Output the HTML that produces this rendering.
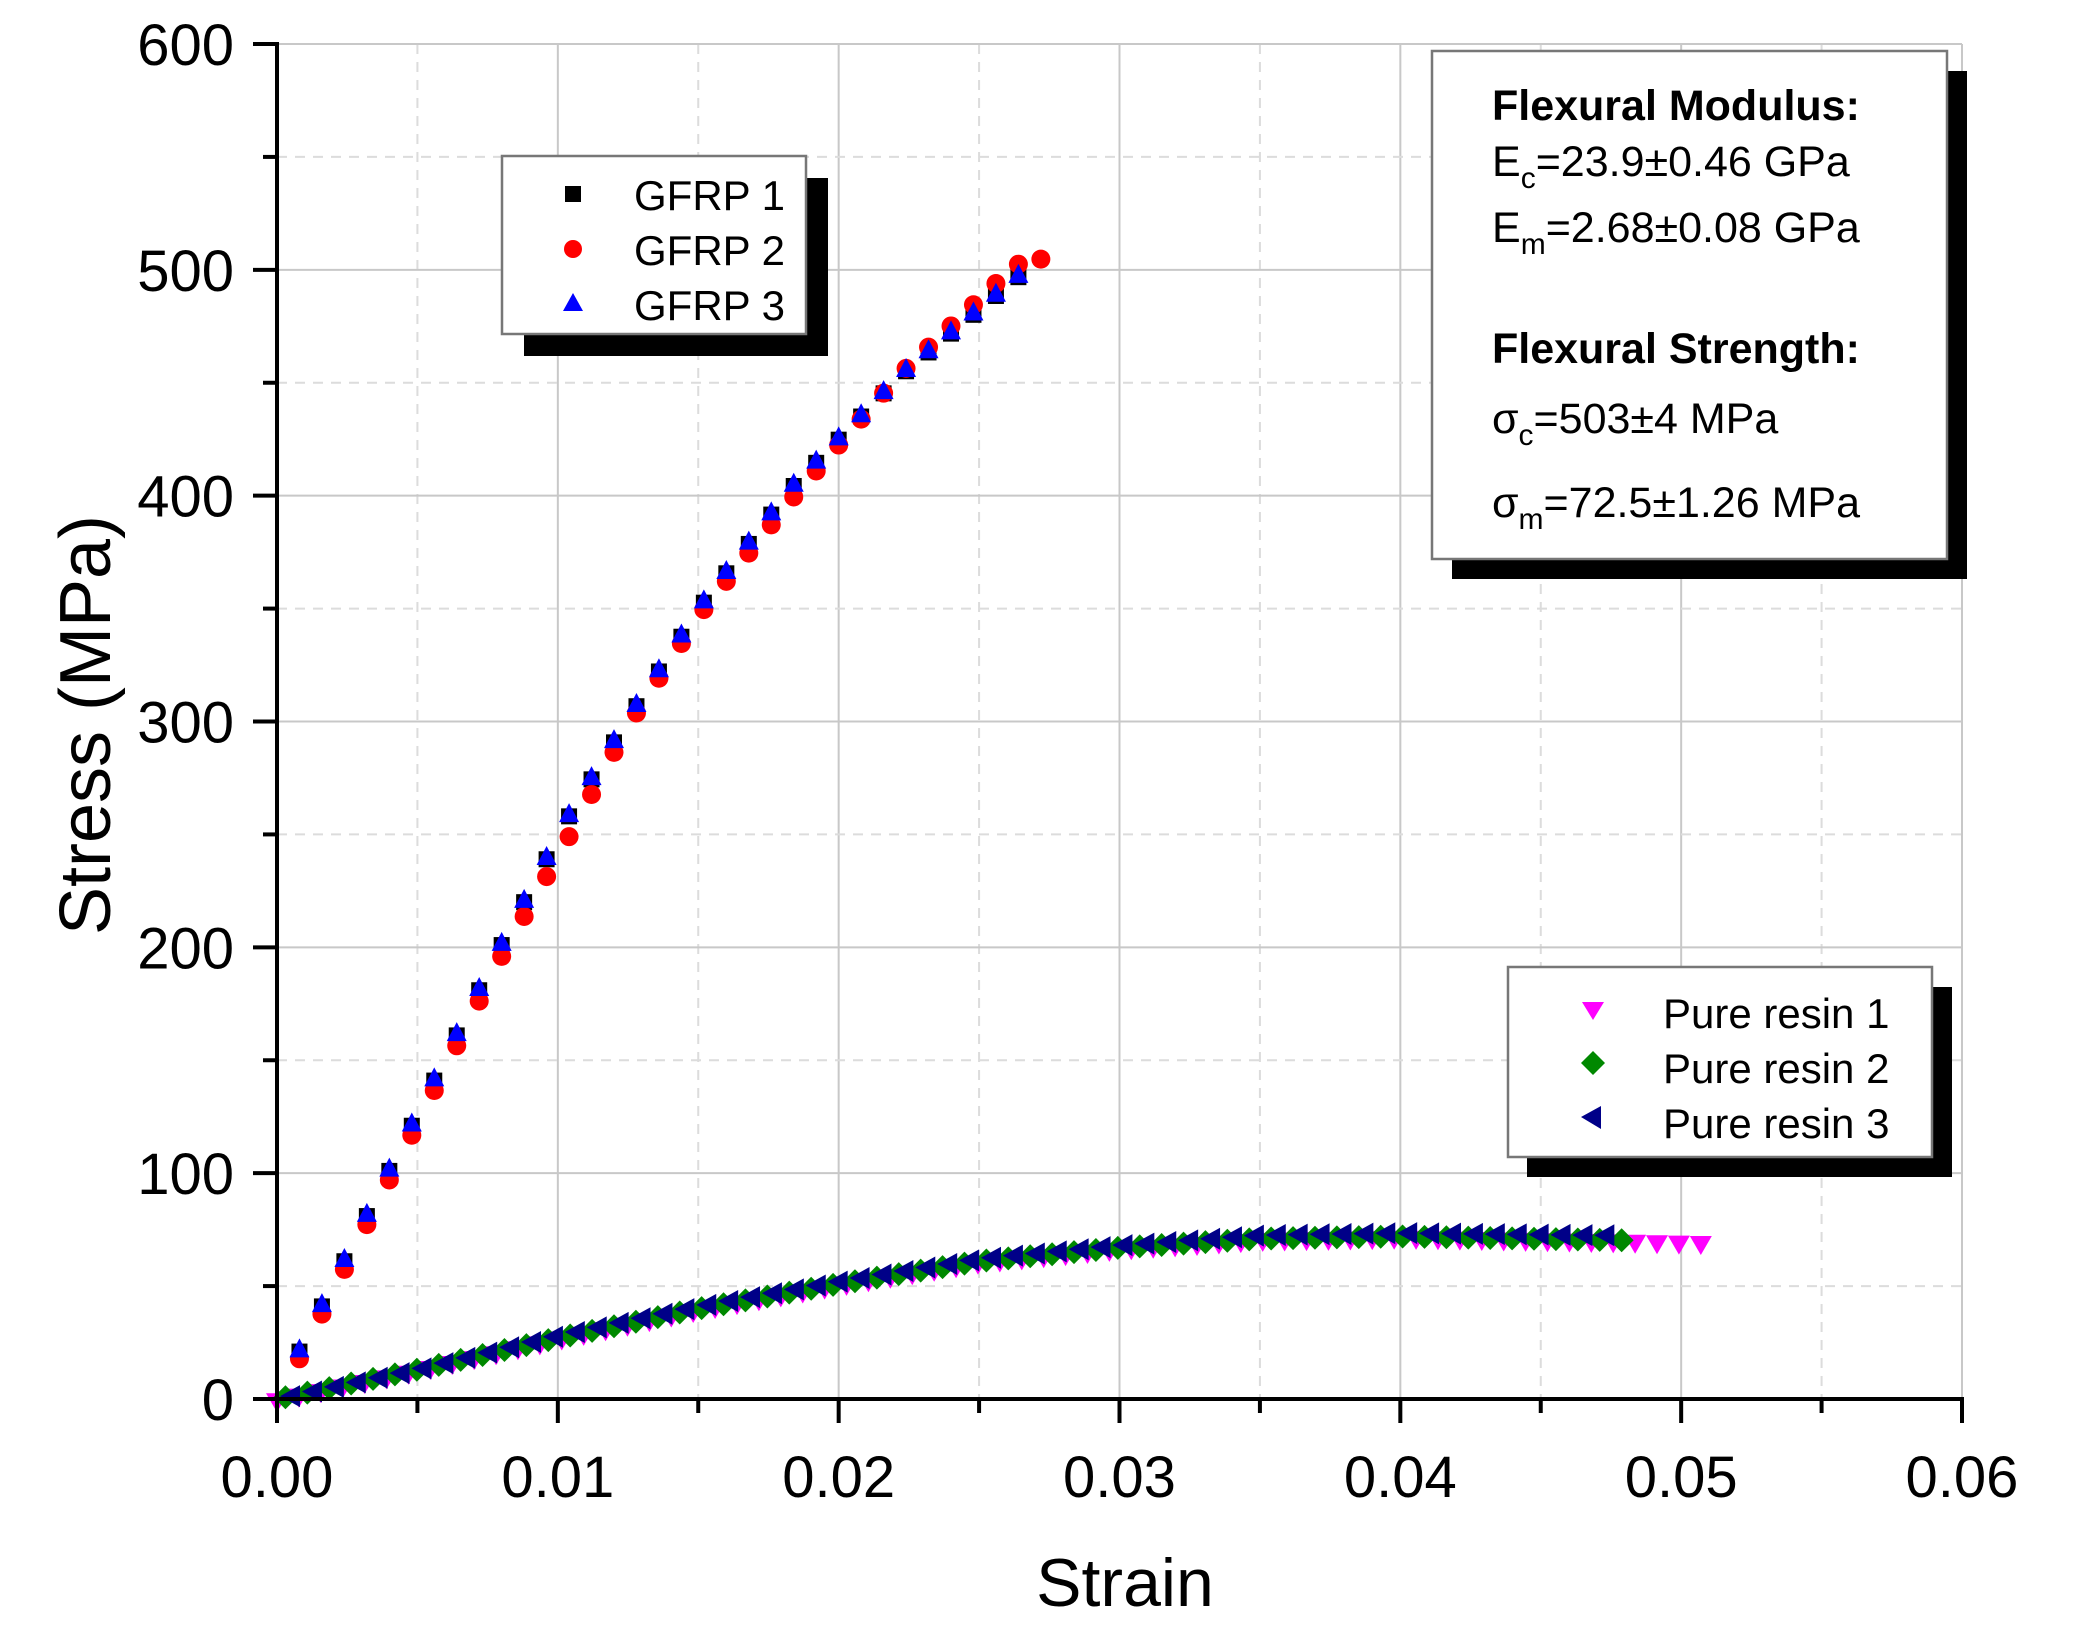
<!DOCTYPE html>
<html><head><meta charset="utf-8"><style>
html,body{margin:0;padding:0;background:#fff}
svg{display:block;font-family:"Liberation Sans",Arial,sans-serif}
</style></head><body>
<svg id="s" width="2076" height="1630" viewBox="0 0 2076 1630" xmlns="http://www.w3.org/2000/svg">
<rect width="2076" height="1630" fill="#fff"/>
<g id="grid"></g>
<g id="data"></g>
<g id="axes"></g>
<!-- legend 1 -->
<rect x="524" y="178" width="304" height="178" fill="#000"/>
<rect x="502" y="156" width="304" height="178" fill="#fff" stroke="#777" stroke-width="2.5"/>
<rect x="565" y="186" width="16" height="16" fill="#000"/>
<circle cx="573" cy="249" r="9" fill="#f00"/>
<polygon points="573,293 563,311 583,311" fill="#00f"/>
<text x="634" y="210" font-size="42">GFRP 1</text>
<text x="634" y="265" font-size="42">GFRP 2</text>
<text x="634" y="320" font-size="42">GFRP 3</text>
<!-- legend 2 -->
<rect x="1527" y="987" width="425" height="190" fill="#000"/>
<rect x="1508" y="967" width="424" height="190" fill="#fff" stroke="#777" stroke-width="2.5"/>
<polygon points="1582,1002 1604,1002 1593,1020" fill="#f0f"/>
<polygon points="1593,1051 1605,1063 1593,1075 1581,1063" fill="#080"/>
<polygon points="1581,1117 1601,1106 1601,1129" fill="#008"/>
<text x="1663" y="1028" font-size="42">Pure resin 1</text>
<text x="1663" y="1083" font-size="42">Pure resin 2</text>
<text x="1663" y="1138" font-size="42">Pure resin 3</text>
<!-- text box -->
<rect x="1452" y="71" width="515" height="508" fill="#000"/>
<rect x="1432" y="51" width="515" height="508" fill="#fff" stroke="#777" stroke-width="2.5"/>
<g font-size="43">
<text x="1492" y="120" font-weight="bold">Flexural Modulus:</text>
<text x="1492" y="176">E<tspan font-size="30" dy="12">c</tspan><tspan dy="-12">=23.9±0.46  GPa</tspan></text>
<text x="1492" y="242">E<tspan font-size="30" dy="12">m</tspan><tspan dy="-12">=2.68±0.08 GPa</tspan></text>
<text x="1492" y="363" font-weight="bold">Flexural Strength:</text>
<text x="1492" y="433">σ<tspan font-size="30" dy="12">c</tspan><tspan dy="-12">=503±4  MPa</tspan></text>
<text x="1492" y="517">σ<tspan font-size="30" dy="12">m</tspan><tspan dy="-12">=72.5±1.26 MPa</tspan></text>
</g>
<text x="1125" y="1606" font-size="68" text-anchor="middle">Strain</text>
<text transform="translate(110,725) rotate(-90)" font-size="72" text-anchor="middle">Stress (MPa)</text>
</svg>
<script>
const NS="http://www.w3.org/2000/svg";
const X0=277,X1=1962,Y0=1399,Y1=44;
const sx=v=>X0+(X1-X0)*v/0.06, sy=v=>Y0-(Y0-Y1)*v/600;
function el(p,t,a){const e=document.createElementNS(NS,t);for(const k in a)e.setAttribute(k,a[k]);p.appendChild(e);return e;}
const g=document.getElementById('grid'),ax=document.getElementById('axes'),d=document.getElementById('data');
for(let i=1;i<=12;i++){const x=sx(i*0.005);const maj=i%2==0;
 el(g,'line',{x1:x,x2:x,y1:Y1,y2:Y0,stroke:maj?'#c8c8c8':'#dcdcdc','stroke-width':2,'stroke-dasharray':maj?'':'10,8'});}
for(let i=1;i<=12;i++){const y=sy(i*50);const maj=i%2==0;
 el(g,'line',{x1:X0,x2:X1,y1:y,y2:y,stroke:maj?'#c8c8c8':'#dcdcdc','stroke-width':2,'stroke-dasharray':maj?'':'10,8'});}
el(ax,'line',{x1:X0,x2:X0,y1:Y1-2,y2:Y0+2,stroke:'#000','stroke-width':4});
el(ax,'line',{x1:X0-2,x2:X1+2,y1:Y0,y2:Y0,stroke:'#000','stroke-width':4});
for(let i=0;i<=12;i++){const x=sx(i*0.005);el(ax,'line',{x1:x,x2:x,y1:Y0,y2:Y0+(i%2?14:24),stroke:'#000','stroke-width':4});
 if(i%2==0){const t=el(ax,'text',{x:x,y:1497,'font-size':58,'text-anchor':'middle'});t.textContent=(i*0.005).toFixed(2);}}
for(let i=0;i<=12;i++){const y=sy(i*50);el(ax,'line',{x1:X0,x2:X0-(i%2?14:24),y1:y,y2:y,stroke:'#000','stroke-width':4});
 if(i%2==0){const t=el(ax,'text',{x:234,y:y+21,'font-size':58,'text-anchor':'end'});t.textContent=i*50;}}
function interp(k,x){for(let i=1;i<k.length;i++){if(x<=k[i][0]){const a=k[i-1],b=k[i];return a[1]+(b[1]-a[1])*(x-a[0])/(b[0]-a[0]);}}return k[k.length-1][1];}
const G=[[0,0],[0.008,200],[0.0104,257],[0.0125,300],[0.0151,350],[0.0183,402],[0.0222,452],[0.027,502]];
const G2=[[0,0],[0.008,198],[0.0104,251],[0.0125,300],[0.0151,350],[0.0183,400],[0.0222,456],[0.0262,503],[0.027,509],[0.0278,500]];
const R=[[0,0],[0.005,13],[0.01,27],[0.015,40],[0.02,51],[0.025,61],[0.03,67],[0.035,71],[0.04,72],[0.047,70.5],[0.0512,69.5]];
const R3=[[0,0],[0.005,13],[0.01,28],[0.015,41],[0.02,52],[0.025,62],[0.03,68],[0.035,72.5],[0.04,73.5],[0.047,72.5]];
function sq(x,y){el(d,'rect',{x:x-8,y:y-8,width:16,height:16,fill:'#000'});}
function ci(x,y){el(d,'circle',{cx:x,cy:y,r:9.5,fill:'#f00'});}
function tu(x,y){el(d,'polygon',{points:`${x},${y-11} ${x-10},${y+8} ${x+10},${y+8}`,fill:'#00f'});}
function td(x,y){el(d,'polygon',{points:`${x-11},${y-8} ${x+11},${y-8} ${x},${y+11}`,fill:'#f0f'});}
function di(x,y){el(d,'polygon',{points:`${x},${y-12} ${x+12},${y} ${x},${y+12} ${x-12},${y}`,fill:'#080'});}
function tl(x,y){el(d,'polygon',{points:`${x-11},${y} ${x+9},${y-11} ${x+9},${y+11}`,fill:'#008'});}
for(let i=1;i*0.0008<=0.02705;i++){const x=i*0.0008;sq(sx(x),sy(interp(G,x)+1));}
for(let i=1;i*0.0008<=0.0279;i++){const x=i*0.0008;ci(sx(x),sy(interp(G2,x)-2));}
for(let i=1;i*0.0008<=0.02705;i++){const x=i*0.0008;tu(sx(x),sy(interp(G,x)+2));}
for(let i=0;i*0.00078<=0.0513;i++){const x=i*0.00078;td(sx(x),sy(interp(R,x)-1));}
for(let i=0;i*0.00078<=0.0476;i++){const x=i*0.00078+0.0003;di(sx(x),sy(interp(R,x)));}
for(let i=0;i*0.00078<=0.0471;i++){const x=i*0.00078+0.0005;tl(sx(x),sy(interp(R3,x)));}
</script>
</body></html>
